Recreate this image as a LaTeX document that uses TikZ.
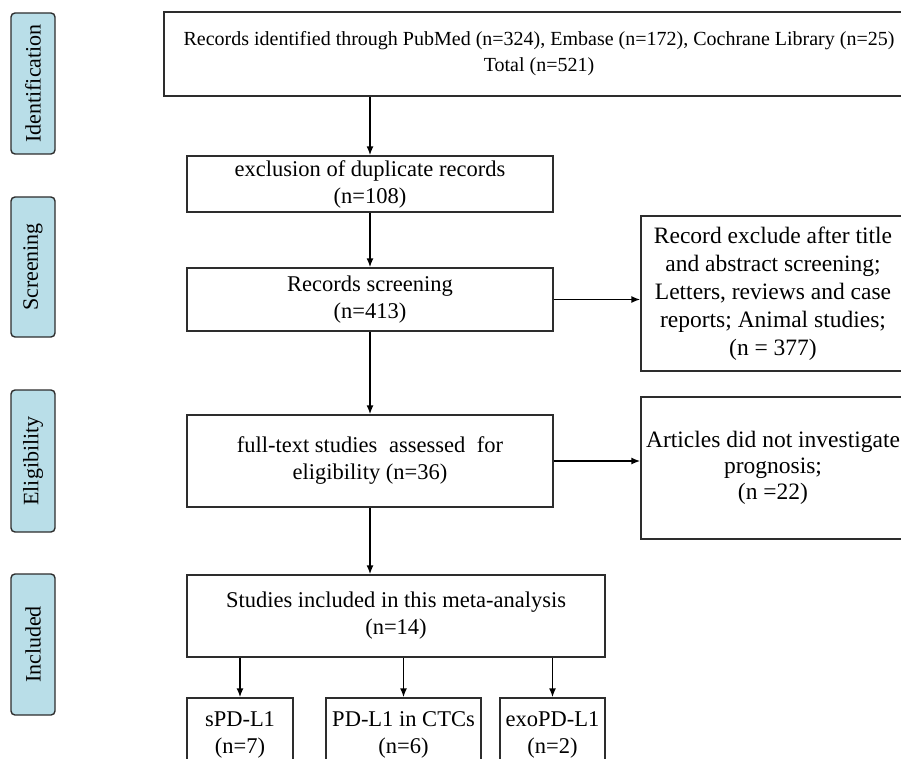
\documentclass[tikz,border=0pt]{standalone}
\usepackage{fontspec}
\setmainfont{Liberation Serif}
\usetikzlibrary{arrows.meta}
\definecolor{lab}{RGB}{185,222,232}
\definecolor{edge}{RGB}{45,45,45}
\begin{document}
\begin{tikzpicture}[x=1pt,y=-1pt,
  box/.style={draw=edge, line width=1.4pt, align=center, inner sep=0pt,
    font=\fontsize{22.5}{27}\selectfont},
  sidebox/.style={draw=edge, line width=1.4pt, fill=lab, rounded corners=4pt,
    inner sep=0pt, rotate=90, minimum height=44pt,
    font=\fontsize{22}{26}\selectfont},
  arr/.style={-{Latex[length=9pt,width=7pt]}, line width=1.5pt, black}]
\useasboundingbox (0,0) rectangle (901,759);
\clip (0,0) rectangle (901,759);

% stage labels
\node[sidebox, minimum width=141pt] (lid) at (33,83.5) {Identification};
\node[sidebox, minimum width=140pt] (lsc) at (33,267) {Screening};
\node[sidebox, minimum width=142pt] (lel) at (33,461) {Eligibility};
\node[sidebox, minimum width=141pt] (lin) at (33,644.5) {Included};

% main boxes
\node[box, minimum width=750pt, minimum height=84pt, font=\fontsize{20}{26}\selectfont] (top) at (539,54)
  {Records identified through PubMed (n=324), Embase (n=172), Cochrane Library (n=25)\\Total (n=521)};
\node[box, minimum width=366pt, minimum height=56pt] (excl) at (370,184)
  {exclusion of duplicate records\\(n=108)};
\node[box, minimum width=366pt, minimum height=63pt] (scr) at (370,299.5)
  {Records screening\\(n=413)};
\node[box, minimum width=366pt, minimum height=92pt] (full) at (370,461)
  {full-text studies\hspace{6pt} assessed\hspace{6pt} for\\eligibility (n=36)};
\node[box, minimum width=418pt, minimum height=82pt] (stud) at (396,616)
  {Studies included in this meta-analysis\\(n=14)};

% exclusion boxes
\node[box, minimum width=264pt, minimum height=155pt, font=\fontsize{23.5}{28}\selectfont] (rex1) at (773,293.5)
  {Record exclude after title\\and abstract screening;\\Letters, reviews and case\\reports; Animal studies;\\(n = 377)};
\node[box, minimum width=264pt, minimum height=142pt, font=\fontsize{23.5}{26}\selectfont] (rex2) at (773,468)
  {Articles did not investigate\\prognosis;\\(n =22)};

% sub-groups
\node[box, minimum width=106pt, minimum height=74pt] (spd) at (240,735)
  {sPD-L1\\(n=7)};
\node[box, minimum width=155pt, minimum height=74pt] (ctc) at (403.5,735)
  {PD-L1 in CTCs\\(n=6)};
\node[box, minimum width=105pt, minimum height=74pt] (exo) at (552.5,735)
  {exoPD-L1\\(n=2)};

% connectors
\draw[arr] (excl.north |- top.south) -- (excl.north);
\draw[arr] (excl.south) -- (scr.north);
\draw[arr] (scr.south) -- (full.north);
\draw[arr] (full.south) -- (full.south |- stud.north);
\draw[arr] (scr.east) -- (scr.east -| rex1.west);
\draw[arr] (full.east) -- (full.east -| rex2.west);
\draw[arr] (spd.north |- stud.south) -- (spd.north);
\draw[arr] (ctc.north |- stud.south) -- (ctc.north);
\draw[arr] (exo.north |- stud.south) -- (exo.north);
\end{tikzpicture}
\end{document}
